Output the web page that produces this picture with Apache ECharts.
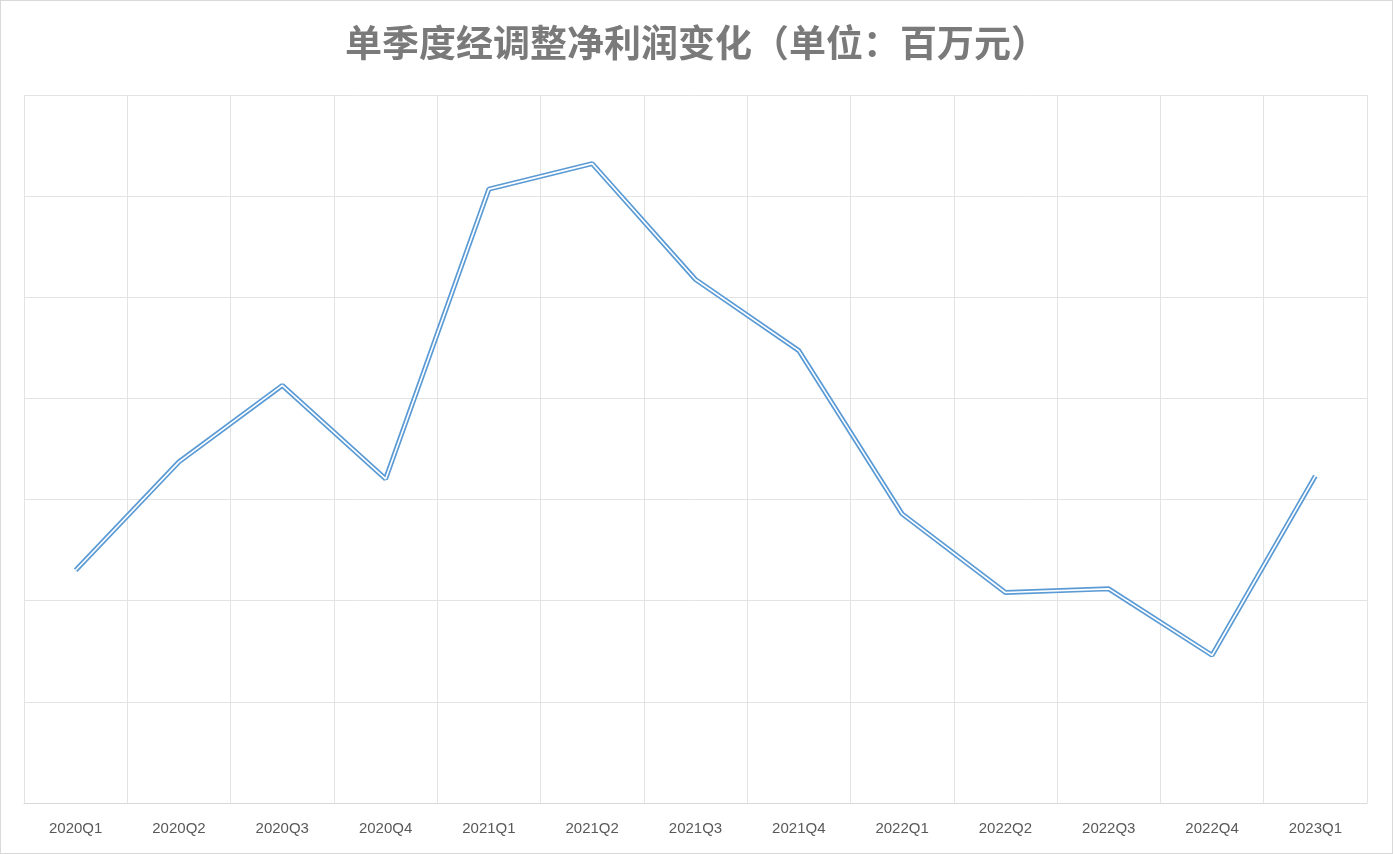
<!DOCTYPE html>
<html>
<head>
<meta charset="utf-8">
<script src="https://cdn.jsdelivr.net/npm/echarts@6/dist/echarts.min.js"></script>
<style>
html,body{margin:0;padding:0;background:#fff;}
#main{width:1391px;height:852px;border:1px solid #d9d9d9;}
</style>
</head>
<body>
<div id="main"></div>
<script>
var quarters=['2020Q1','2020Q2','2020Q3','2020Q4','2021Q1','2021Q2','2021Q3','2021Q4','2022Q1','2022Q2','2022Q3','2022Q4','2023Q1'];
var profit=[2300.5,3373.2,4128.3,3204.4,6069.3,6321.5,5175.6,4473.1,2858.6,2081.3,2117.3,1460.9,3233.3];

var chart=echarts.init(document.getElementById('main'));
var option={
  animation:false,
  title:{
    text:'单季度经调整净利润变化（单位：百万元）',
    left:'center',top:18,
    textStyle:{fontSize:37,fontWeight:'bold',color:'#7a7a7a',fontFamily:'Noto Sans CJK SC'}
  },
  grid:{left:23,right:25,top:94,bottom:50},
  xAxis:{
    type:'category',
    data:quarters,
    boundaryGap:true,
    axisLine:{lineStyle:{color:'#d9d9d9'}},
    axisTick:{show:false},
    axisLabel:{color:'#595959',fontSize:15,margin:18},
    splitLine:{show:true,lineStyle:{color:'#e3e3e3'}}
  },
  yAxis:{
    type:'value',min:0,max:7000,interval:1000,
    axisLabel:{show:false},
    axisLine:{show:false},axisTick:{show:false},
    splitLine:{lineStyle:{color:'#e3e3e3'}}
  },
  series:[
    {
      type:'line',data:profit,symbol:'circle',symbolSize:1,showSymbol:true,z:2,
      itemStyle:{opacity:0},
      lineStyle:{color:'#5b9bd5',width:5},
      labelLayout:{hideOverlap:false},
      label:{
        show:true,position:'right',offset:[4,10],
        color:'#404040',fontSize:16,
        formatter:function(p){return p.value.toLocaleString('en-US',{minimumFractionDigits:2,maximumFractionDigits:2});}
      }
    },
    {
      type:'line',data:profit,symbol:'none',z:3,silent:true,
      lineStyle:{color:'#ffffff',width:1.6}
    }
  ]
};
chart.setOption(option);
</script>
</body>
</html>
